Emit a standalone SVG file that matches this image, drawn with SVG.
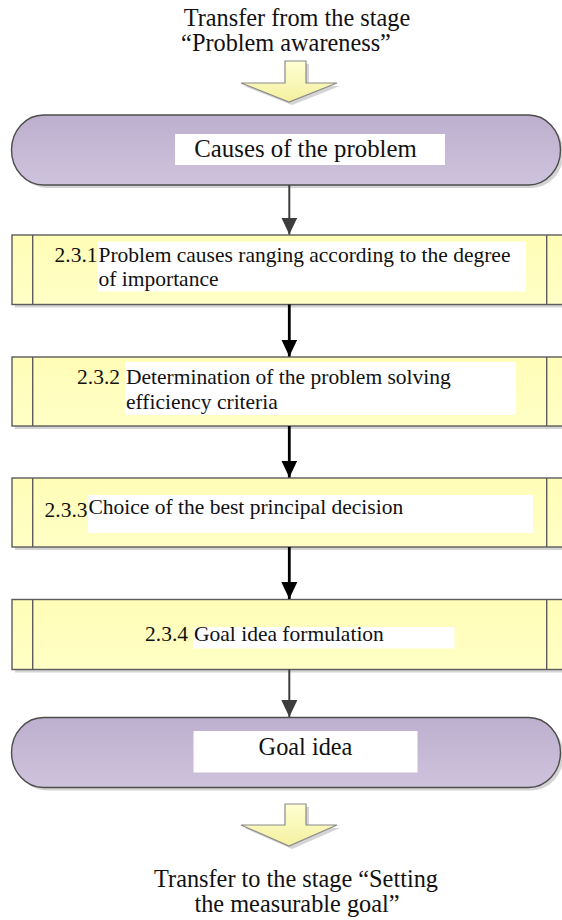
<svg xmlns="http://www.w3.org/2000/svg" width="562" height="920" viewBox="0 0 562 920">
  <style>
    .t { font-family: "Liberation Serif", "Times New Roman", serif; fill: #111; }
    .title { font-size: 24.3px; }
    .big { font-size: 24.8px; }
    .step { font-size: 21.5px; }
    .term { fill: url(#termFill); stroke: #4d4d4d; stroke-width: 1.4; }
    .box { fill: url(#boxFill); stroke: #5c5c5c; stroke-width: 1.4; }
    .divider { stroke: #5c5c5c; stroke-width: 1.4; }
    .shadow { fill: #d4d4d4; }
    .label-bg { fill: #ffffff; }
    .blk { fill: url(#arrowFill); stroke: #8a8a8a; stroke-width: 1.2; }
    .flow-gray { stroke: #3d3d3d; stroke-width: 2; fill: none; marker-end: url(#headGray); }
    .flow-black { stroke: #000; stroke-width: 2.8; fill: none; marker-end: url(#headBlack); }
  </style>
  <defs>
    <linearGradient id="termFill" x1="0" y1="0" x2="0" y2="1">
      <stop offset="0" stop-color="#bdafce"/>
      <stop offset="1" stop-color="#cec3dd"/>
    </linearGradient>
    <linearGradient id="boxFill" x1="0" y1="0" x2="0" y2="1">
      <stop offset="0" stop-color="#fffdb6"/>
      <stop offset="1" stop-color="#ffffc6"/>
    </linearGradient>
    <linearGradient id="arrowFill" x1="0" y1="0" x2="0" y2="1">
      <stop offset="0" stop-color="#ffffd2"/>
      <stop offset="1" stop-color="#f4f0a0"/>
    </linearGradient>
    <marker id="headGray" viewBox="0 0 17 16" markerUnits="userSpaceOnUse" markerWidth="17" markerHeight="16" refX="17" refY="8" orient="auto">
      <path d="M0,0 L17,8 L0,16 z" fill="#3d3d3d"/>
    </marker>
    <marker id="headBlack" viewBox="0 0 17 16" markerUnits="userSpaceOnUse" markerWidth="17" markerHeight="16" refX="17" refY="8" orient="auto">
      <path d="M0,0 L17,8 L0,16 z" fill="#000"/>
    </marker>
  </defs>

  <rect width="562" height="920" fill="#ffffff"/>

  <!-- entry label and block arrow -->
  <g id="entry">
    <text class="t title" x="297" y="26" text-anchor="middle">Transfer from the stage</text>
    <text class="t title" x="286" y="51" text-anchor="middle">“Problem awareness”</text>
    <path class="shadow" d="M288,64 H309 V86 H340 L292,105 L244,86 H288 z"/>
    <path class="blk" d="M285,61 H306 V83 H337 L289,102 L241,83 H285 z"/>
  </g>

  <!-- start terminator -->
  <g id="causes">
    <rect class="shadow" x="14.5" y="118" width="549" height="70" rx="32" ry="35"/>
    <rect class="term" x="11.5" y="115" width="549" height="70" rx="32" ry="35"/>
    <rect class="label-bg" x="175" y="134" width="270" height="31"/>
    <text class="t big" x="305.5" y="157" text-anchor="middle">Causes of the problem</text>
  </g>

  <!-- step 2.3.1 -->
  <g id="step-231">
    <rect class="shadow" x="15" y="238" width="556" height="69.5"/>
    <rect class="box" x="12" y="235" width="556" height="69.5"/>
    <line class="divider" x1="32.7" y1="235" x2="32.7" y2="304.5"/>
    <line class="divider" x1="546.7" y1="235" x2="546.7" y2="304.5"/>
    <rect class="label-bg" x="97.5" y="241.5" width="428.5" height="50"/>
    <text class="t step" x="54.5" y="262">2.3.1</text>
    <text class="t step" x="98.5" y="262">Problem causes ranging according to the degree</text>
    <text class="t step" x="98.5" y="286">of importance</text>
  </g>

  <!-- step 2.3.2 -->
  <g id="step-232">
    <rect class="shadow" x="15" y="360" width="556" height="69"/>
    <rect class="box" x="12" y="357" width="556" height="69"/>
    <line class="divider" x1="32.7" y1="357" x2="32.7" y2="426"/>
    <line class="divider" x1="546.7" y1="357" x2="546.7" y2="426"/>
    <rect class="label-bg" x="125" y="362" width="391" height="53"/>
    <text class="t step" x="77" y="384">2.3.2</text>
    <text class="t step" x="126" y="384">Determination of the problem solving</text>
    <text class="t step" x="126" y="409">efficiency criteria</text>
  </g>

  <!-- step 2.3.3 -->
  <g id="step-233">
    <rect class="shadow" x="15" y="481" width="556" height="69"/>
    <rect class="box" x="12" y="478" width="556" height="69"/>
    <line class="divider" x1="32.7" y1="478" x2="32.7" y2="547"/>
    <line class="divider" x1="546.7" y1="478" x2="546.7" y2="547"/>
    <rect class="label-bg" x="88" y="495" width="445" height="38"/>
    <text class="t step" x="44.5" y="517">2.3.3</text>
    <text class="t step" x="88.5" y="514">Choice of the best principal decision</text>
  </g>

  <!-- step 2.3.4 -->
  <g id="step-234">
    <rect class="shadow" x="15" y="602.5" width="556" height="70"/>
    <rect class="box" x="12" y="599.5" width="556" height="70"/>
    <line class="divider" x1="32.7" y1="599.5" x2="32.7" y2="669.5"/>
    <line class="divider" x1="546.7" y1="599.5" x2="546.7" y2="669.5"/>
    <rect class="label-bg" x="193.5" y="627" width="261" height="21.5"/>
    <text class="t step" x="145" y="641">2.3.4</text>
    <text class="t step" x="194" y="641">Goal idea formulation</text>
  </g>

  <!-- end terminator -->
  <g id="goal-idea">
    <rect class="shadow" x="14.5" y="720.5" width="549" height="70" rx="32" ry="35"/>
    <rect class="term" x="11.5" y="717.5" width="549" height="70" rx="32" ry="35"/>
    <rect class="label-bg" x="193.5" y="731" width="224" height="41.5"/>
    <text class="t title" x="305.5" y="755" text-anchor="middle">Goal idea</text>
  </g>

  <!-- exit block arrow and label -->
  <g id="exit">
    <path class="shadow" d="M288,807 H309 V828 H340 L292,849 L244,828 H288 z"/>
    <path class="blk" d="M285,804 H306 V825 H337 L289,846 L241,825 H285 z"/>
    <text class="t title" x="296" y="887" text-anchor="middle">Transfer to the stage “Setting</text>
    <text class="t title" x="297" y="912" text-anchor="middle">the measurable goal”</text>
  </g>

  <!-- connectors -->
  <g id="connectors">
    <line class="flow-gray" x1="289.3" y1="185" x2="289.3" y2="234.5"/>
    <line class="flow-black" x1="289.3" y1="304.5" x2="289.3" y2="356.5"/>
    <line class="flow-black" x1="289.3" y1="426" x2="289.3" y2="477.5"/>
    <line class="flow-black" x1="289.3" y1="547" x2="289.3" y2="599"/>
    <line class="flow-gray" x1="289.3" y1="669.5" x2="289.3" y2="717"/>
  </g>
</svg>
